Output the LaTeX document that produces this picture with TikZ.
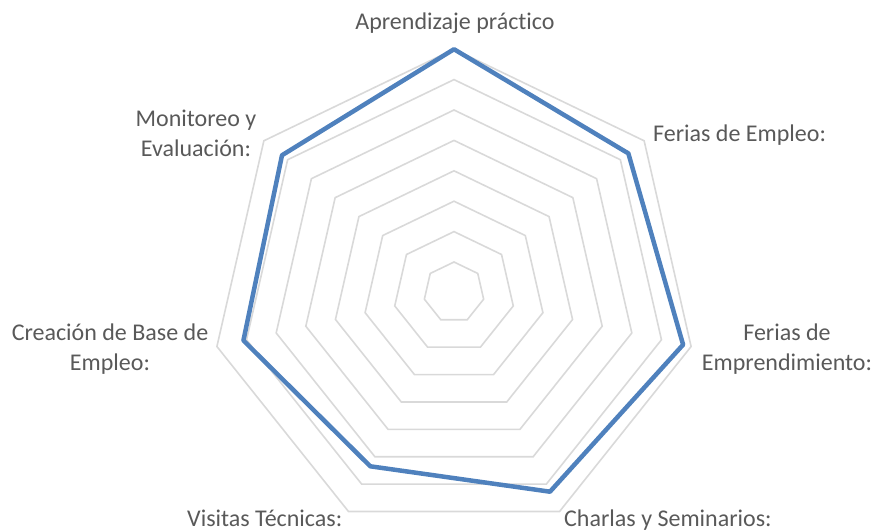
\documentclass[tikz,border=0pt]{standalone}
\usepackage{fontspec}
\setmainfont{Carlito}[Ligatures=NoCommon]
\definecolor{gridc}{RGB}{217,217,217}
\definecolor{serc}{RGB}{79,129,189}
\definecolor{txtc}{RGB}{89,89,89}
\begin{document}
\begin{tikzpicture}[x=1pt,y=-1pt,
  gridline/.style={draw=gridc,line width=1.6pt},
  series/.style={draw=serc,line width=4.5pt,line join=round},
  lbl/.style={text=txtc,font=\fontsize{24}{29.5}\selectfont,inner sep=0pt,align=center,anchor=base}]
\useasboundingbox (0,0) rectangle (875,531);
\begin{scope}[shift={(454,292.4)},yscale=-1]
  \foreach \i in {1,...,8}{
    \draw[gridline] (90:{30.4*\i})
      \foreach \k in {1,...,6}{ -- ({90-\k*360/7}:{30.4*\i})} -- cycle;
  }
  \coordinate (p0) at (90:243.2);
  \coordinate (p1) at ({90-1*360/7}:223);
  \coordinate (p2) at ({90-2*360/7}:235);
  \coordinate (p3) at ({90-3*360/7}:221.2);
  \coordinate (p4) at ({90-4*360/7}:193);
  \coordinate (p5) at ({90-5*360/7}:216);
  \coordinate (p6) at ({90-6*360/7}:220);
  \draw[series] (p0) -- (p1) -- (p2) -- (p3) -- (p4) -- (p5) -- (p6) -- cycle;
\end{scope}
\node[lbl] (l0) at (455,29) {Aprendizaje práctico};
\node[lbl,anchor=base west] (l1) at (653,141.7) {Ferias de Empleo:};
\node[lbl] (l2) at (787,370) {Ferias de\\Emprendimiento:};
\node[lbl,anchor=base west] (l3) at (564,526.5) {Charlas y Seminarios:};
\node[lbl,anchor=base west] (l4) at (187,526.5) {Visitas Técnicas:};
\node[lbl] (l5) at (110,370) {Creación de Base de\\Empleo:};
\node[lbl] (l6) at (196,156) {Monitoreo y\\Evaluación:};
\end{tikzpicture}
\end{document}
